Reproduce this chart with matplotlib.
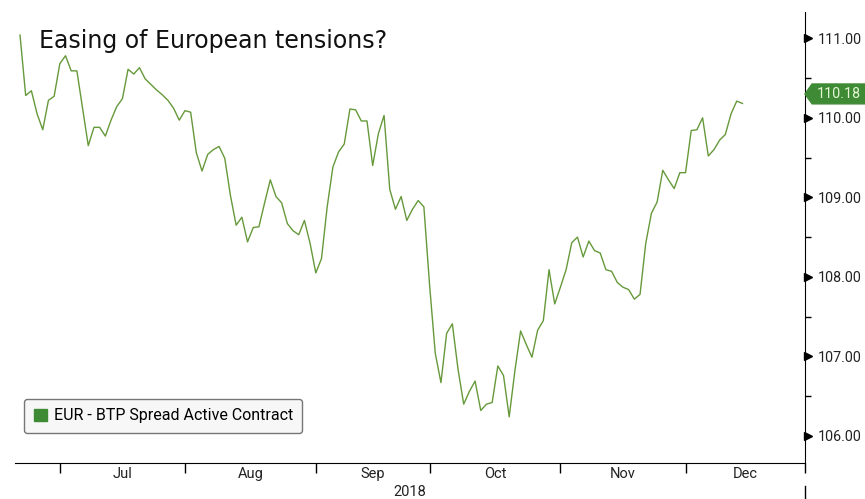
import numpy as np
import pandas as pd
import matplotlib
matplotlib.use("Agg")
import matplotlib.pyplot as plt
from matplotlib.patches import Patch, Polygon
from matplotlib.lines import Line2D

# ----------------------------
# Data: EUR - BTP spread active contract, business days
# ----------------------------
start_date = "2018-06-21"
spread = [
    111.04, 110.28, 110.34, 110.05, 109.85, 110.22, 110.27, 110.68, 110.78, 110.59,
    110.59, 110.12, 109.65, 109.88, 109.88, 109.77, 109.97, 110.14, 110.24, 110.61,
    110.55, 110.63, 110.49, 110.42, 110.35, 110.29, 110.22, 110.12, 109.97, 110.09,
    110.07, 109.56, 109.33, 109.54, 109.60, 109.64, 109.49, 109.02, 108.65, 108.75,
    108.44, 108.62, 108.63, 108.93, 109.22, 109.01, 108.93, 108.67, 108.58, 108.53,
    108.71, 108.42, 108.05, 108.23, 108.88, 109.38, 109.57, 109.67, 110.11, 110.10,
    109.96, 109.96, 109.40, 109.80, 110.03, 109.10, 108.85, 109.01, 108.71, 108.85,
    108.96, 108.88, 107.90, 107.04, 106.67, 107.29, 107.41, 106.84, 106.40, 106.56,
    106.69, 106.32, 106.40, 106.42, 106.88, 106.76, 106.24, 106.82, 107.32, 107.15,
    106.99, 107.33, 107.45, 108.09, 107.66, 107.87, 108.09, 108.43, 108.50, 108.25,
    108.45, 108.33, 108.30, 108.09, 108.07, 107.93, 107.87, 107.84, 107.72, 107.78,
    108.42, 108.80, 108.94, 109.34, 109.22, 109.11, 109.31, 109.31, 109.84, 109.85,
    110.00, 109.52, 109.60, 109.72, 109.79, 110.05, 110.21, 110.18,
]
month_labels = ["Jul", "Aug", "Sep", "Oct", "Nov", "Dec"]
y_ticks = [106, 107, 108, 109, 110, 111]
title = "Easing of European tensions?"
legend_label = "EUR - BTP Spread Active Contract"
year_label = "2018"

dates = pd.bdate_range(start_date, periods=len(spread))
idx = np.arange(len(spread))

# ----------------------------
# Styling
# ----------------------------
line_color = "#66993a"
patch_color = "#3f8a34"
narrow = ["Roboto", "DejaVu Sans"]
txt_color = "#222222"

x_left, x_right = -0.88, 138.0
y_low, y_high = 105.66, 111.33

fig = plt.figure(figsize=(8.65, 4.99), dpi=100)
ax = fig.add_axes([15 / 865, 1 - 463 / 499, 790 / 865, 451 / 499])

ax.plot(idx, spread, color=line_color, lw=1.0)

ax.set_xlim(x_left, x_right)
ax.set_ylim(y_low, y_high)

# month ticks at first business day of each month, labels in between
months = pd.Series(dates.month)
firsts = [int(np.where(months == m)[0][0]) for m in range(7, 13)]
major = firsts + [x_right]
mids = [(major[i] + major[i + 1]) / 2 for i in range(len(firsts))]
ax.set_xticks(major)
ax.set_xticklabels([])
ax.set_xticks(mids, minor=True)
ax.set_xticklabels(month_labels, minor=True, family=narrow, fontsize=10.5, color=txt_color)
ax.tick_params(axis="x", which="major", direction="out", length=7, width=1, color="black")
ax.tick_params(axis="x", which="minor", length=0, pad=3)

# right-hand value axis
ax.yaxis.tick_right()
ax.set_yticks(y_ticks)
ax.set_yticklabels([f"{v:.2f}" for v in y_ticks], family=narrow, fontsize=10.3, color=txt_color)
ax.set_yticks([v + 0.5 for v in y_ticks[:-1]], minor=True)
ax.tick_params(axis="y", which="major", length=0, pad=9)
ax.tick_params(axis="y", which="minor", direction="out", length=4, width=1, color="black")
ax.plot([1.004] * len(y_ticks), y_ticks, linestyle="none", marker=">", markersize=6,
        color="black", transform=ax.get_yaxis_transform(), clip_on=False)

for s in ["top", "left"]:
    ax.spines[s].set_visible(False)
ax.spines["right"].set_color("black")
ax.spines["bottom"].set_color("black")

# title inside plot
ax.text(0.030, 0.935, title, transform=ax.transAxes, fontsize=17, family="DejaVu Sans",
        color="#111111", va="center", ha="left")

# year label
fig.text(410 / 865, 1 - 492 / 499, year_label, ha="center", va="center",
         family=narrow, fontsize=10.5, color=txt_color)
fig.add_artist(Line2D([805 / 865, 805 / 865], [0, 1 - 486 / 499], color="black", lw=1))

# legend
leg = ax.legend([Patch(facecolor=patch_color, edgecolor=patch_color)], [legend_label],
                loc="lower left", bbox_to_anchor=(0.0114, 0.0665), borderaxespad=0,
                frameon=True, fancybox=True,
                prop={"family": narrow, "size": 11.5}, handlelength=0.85, handleheight=0.85,
                handletextpad=0.4, borderpad=0.6)
leg.get_frame().set_edgecolor("#555555")
leg.get_frame().set_facecolor("#f6f6f6")
leg.get_frame().set_linewidth(1.0)

# last value tag
last = spread[-1]
yc = last + 0.12
hh = 0.125
tag = Polygon([(1.0, yc), (1.009, yc + hh), (1.08, yc + hh), (1.08, yc - hh), (1.009, yc - hh)],
              closed=True, facecolor=patch_color, edgecolor=patch_color,
              transform=ax.get_yaxis_transform(), clip_on=False, zorder=5)
ax.add_patch(tag)
ax.text(1.043, yc, f"{last:.2f}", transform=ax.get_yaxis_transform(), ha="center", va="center",
        family=narrow, fontsize=10.3, color="#e4f7d4", zorder=6, clip_on=False)

fig.savefig("out.png", dpi=100, facecolor="white")
